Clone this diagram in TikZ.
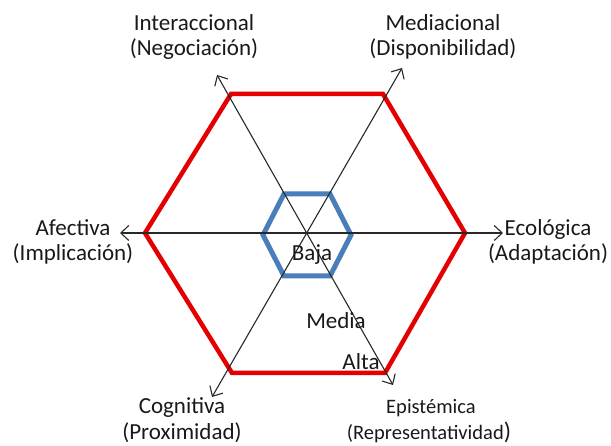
\documentclass[tikz,border=0pt]{standalone}
\usepackage{fontspec}
\setmainfont{Carlito}
\usetikzlibrary{arrows.meta}
\definecolor{hexred}{RGB}{228,0,0}
\definecolor{hexblue}{RGB}{74,126,187}
\definecolor{axisgray}{RGB}{40,40,40}
\begin{document}
\begin{tikzpicture}[x=1pt,y=-1pt,
  axis/.style={draw=axisgray,line width=1.1pt,
    {Straight Barb[length=8pt,width=15pt,line width=1.1pt]}-{Straight Barb[length=8pt,width=15pt,line width=1.1pt]}},
  outer/.style={draw=hexred,line width=4.5pt,line join=miter},
  inner/.style={draw=hexblue,line width=5pt,line join=miter},
  lbl/.style={font=\fontsize{23}{25.5}\selectfont,align=center,inner sep=0pt,text=black!90},
  small/.style={font=\fontsize{20.5}{23}\selectfont,inner sep=0pt,text=black!90},
  level/.style={font=\fontsize{23}{25}\selectfont,inner sep=0pt,text=black!90}]
\useasboundingbox (0,0) rectangle (611,446);

% outer hexagon (Alta)
\coordinate (R1) at (145,233);
\coordinate (R2) at (231,94);
\coordinate (R3) at (383,94);
\coordinate (R4) at (465,233);
\coordinate (R5) at (385,373);
\coordinate (R6) at (232,373);
\draw[outer] (R1) -- (R2) -- (R3) -- (R4) -- (R5) -- (R6) -- cycle;

% inner hexagon (Baja)
\coordinate (B1) at (263,235);
\coordinate (B2) at (284,194);
\coordinate (B3) at (330,194);
\coordinate (B4) at (351,235);
\coordinate (B5) at (330,276);
\coordinate (B6) at (284,276);
\draw[inner] (B1) -- (B2) -- (B3) -- (B4) -- (B5) -- (B6) -- cycle;

% axis end points
\coordinate (afe) at (120,233);
\coordinate (eco) at (503,233);
\coordinate (cog) at (212,397);
\coordinate (med) at (402,68);
\coordinate (int) at (217,75);
\coordinate (epi) at (393,385);
\draw[axis] (afe) -- (eco);
\draw[axis] (cog) -- (med);
\draw[axis] (int) -- (epi);

% dimension labels
\node[lbl] (lInt) at (194,37) {Interaccional\\(Negociación)};
\node[lbl] (lMed) at (443,37) {Mediacional\\(Disponibilidad)};
\node[lbl] (lAfe) at (73,242) {Afectiva\\(Implicación)};
\node[lbl] (lEco) at (548,242) {Ecológica\\(Adaptación)};
\node[lbl] (lCog) at (182,420) {Cognitiva\\(Proximidad)};
\node[small] (lEpi) at (431,408) {Epistémica};
\node[small,anchor=base] (lRep) at (429,440)
  {(Representatividad{\fontsize{24}{25}\selectfont)}};

% level labels
\node[level] (baja) at (312,255) {Baja};
\node[level] (media) at (336,321) {Media};
\node[level] (alta) at (361,362) {Alta};
\end{tikzpicture}
\end{document}
